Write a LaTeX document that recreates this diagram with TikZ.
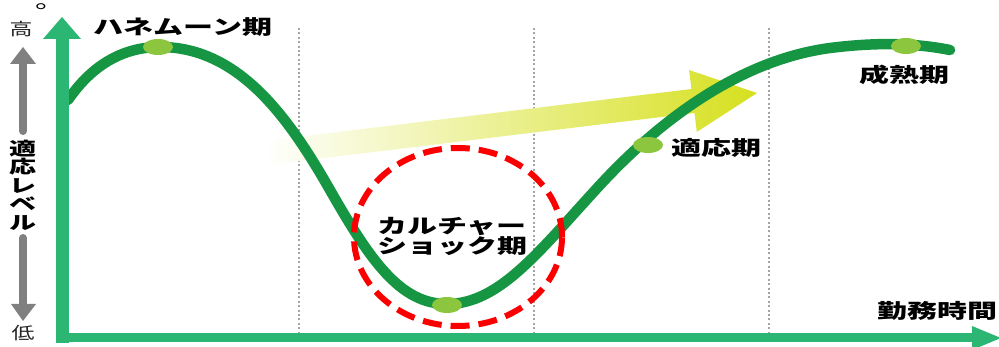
\documentclass[tikz,border=0pt]{standalone}
\usepackage{fontspec}
\newfontfamily\jp{Noto Sans CJK JP}
\usetikzlibrary{shapes.geometric}
\definecolor{axisgreen}{RGB}{43,182,115}
\definecolor{curvegreen}{RGB}{22,150,66}
\definecolor{dotgreen}{RGB}{140,198,63}
\definecolor{gridgray}{RGB}{165,165,165}
\definecolor{arrowgray}{RGB}{128,128,128}
\definecolor{arrowyellow}{RGB}{214,224,30}
\definecolor{circlered}{RGB}{250,0,0}
\tikzset{
  gridline/.style={draw=gridgray, line width=2pt, dash pattern=on 2pt off 2.4pt},
  curveline/.style={draw=curvegreen, line width=10.5pt, line cap=round},
  stagedot/.style={ellipse, fill=dotgreen, minimum width=30pt, minimum height=16pt, inner sep=0pt},
  lbl/.style={font=\jp\bfseries\fontsize{20}{20}\selectfont, inner sep=0pt, align=center},
  sidelbl/.style={font=\jp\fontsize{17}{17}\selectfont, inner sep=0pt, text=black!85},
  redring/.style={draw=circlered, line width=6pt, dash pattern=on 19pt off 9pt},
}
\begin{document}
\begin{tikzpicture}[x=1pt,y=-1pt]
\useasboundingbox (0,0) rectangle (999,347);
% dotted grid lines
\foreach \gx/\gn in {299/ga,534/gb,769/gc}{
  \coordinate (\gn top) at (\gx,28);
  \coordinate (\gn bot) at (\gx,334);
  \draw[gridline] (\gn top) -- (\gn bot);
}
% yellow gradient arrow
\shade[left color=white, right color=arrowyellow]
  (263.5,141) -- (691.5,89) -- (689,70) -- (757,93) -- (696.8,132) -- (694.5,113) -- (266.5,165) -- cycle;
% curve
\draw[curveline] (68,100) .. controls (90,68) and (120,47) .. (160,47)
  .. controls (240,47) and (290,120) .. (330,190)
  .. controls (370,260) and (400,304) .. (447,304)
  .. controls (500,304) and (540,250) .. (600,185)
  .. controls (660,120) and (740,60) .. (830,48)
  .. controls (870,43) and (910,42) .. (950,50);
% stage dots
\node[stagedot] (d1) at (158,47) {};
\node[stagedot] (d2) at (447,305) {};
\node[stagedot] (d3) at (648,145) {};
\node[stagedot] (d4) at (906,46) {};
% red dashed ring
\draw[redring] (458,237) ellipse [x radius=104pt, y radius=89pt];
% labels
\node[lbl] (honeymoon) at (183,27) {\scalebox{1.5}[1]{ハネムーン期}};
\node[lbl] (shock) at (452,236) {\scalebox{1.5}[1]{カルチャー}\\\scalebox{1.5}[1]{ショック期}};
\node[lbl] (adapt) at (716,148) {\scalebox{1.5}[1]{適応期}};
\node[lbl] (mature) at (904,75) {\scalebox{1.5}[1]{成熟期}};
\node[lbl] (time) at (937,311) {\scalebox{1.5}[1]{勤務時間}};
\node[lbl, font=\jp\bfseries\fontsize{18}{18.5}\selectfont] (level) at (23,185)
  {\scalebox{1.5}[1]{適}\\\scalebox{1.5}[1]{応}\\\scalebox{1.5}[1]{レ}\\\scalebox{1.5}[1]{ベ}\\\scalebox{1.5}[1]{ル}};
\node[sidelbl] (high) at (21,29) {\scalebox{1.35}[1]{高}};
\node[sidelbl] (low) at (23,333) {\scalebox{1.35}[1]{低}};
\node[lbl, font=\jp\fontsize{20}{20}\selectfont, anchor=base west] (dot) at (35,9) {\scalebox{1.5}[1]{。}};
% gray arrows
\coordinate (gu1) at (23,131); \coordinate (gu2) at (23,62);
\coordinate (gd1) at (23,238); \coordinate (gd2) at (23,306);
\draw[arrowgray, line width=8pt, line cap=round] (gu1) -- (gu2);
\fill[arrowgray] (10,64) -- (23,47) -- (36,64) -- cycle;
\draw[arrowgray, line width=8pt, line cap=round] (gd1) -- (gd2);
\fill[arrowgray] (11,304) -- (23,321) -- (36,304) -- cycle;
% axes
\fill[axisgreen] (56,37) rectangle (69,343);
\fill[axisgreen] (43,39) -- (62,17) -- (81,39) -- cycle;
\fill[axisgreen] (56,333.5) rectangle (975,342.5);
\fill[axisgreen] (972,326) -- (1001,338) -- (972,350) -- cycle;
\end{tikzpicture}
\end{document}
